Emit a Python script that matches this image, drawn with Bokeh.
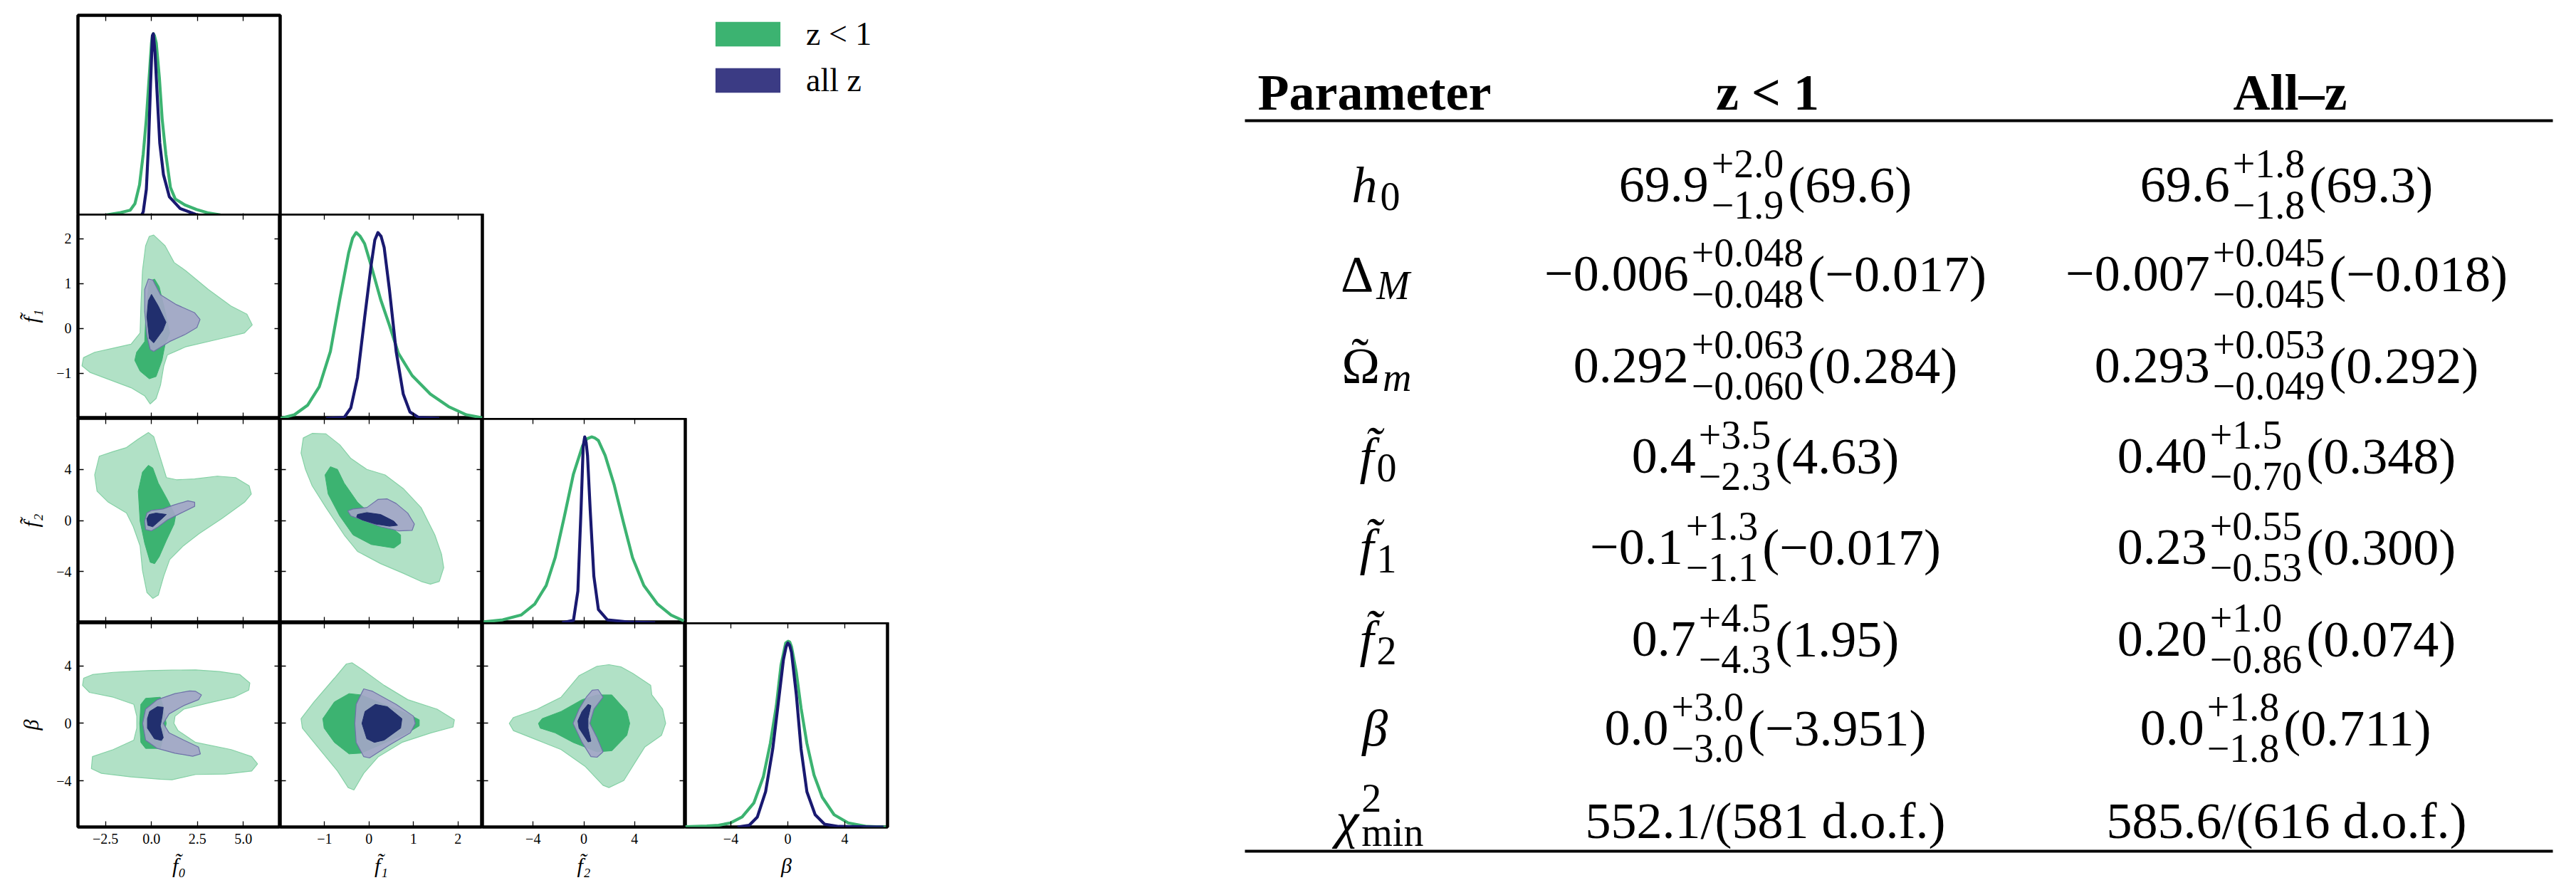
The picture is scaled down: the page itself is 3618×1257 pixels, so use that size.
from bokeh.plotting import figure
from bokeh.models import Range1d, FixedTicker, LinearAxis, Legend, LegendItem, Spacer
from bokeh.layouts import row, column
from bokeh.embed import file_html
from bokeh.resources import INLINE
from bokeh.core.properties import value

# ---------------- digitised data ----------------
# 1-D marginals (normalised peak = 1)
f0_z1_x = [-4.0, -3.35, -2.45, -1.68, -1.16, -0.90, -0.65, -0.45, -0.28, -0.13, 0.0, 0.05, 0.10, 0.16, 0.26, 0.43, 0.58, 0.78, 1.03, 1.29, 1.81, 2.45, 3.10, 3.75, 5.04, 6.98]
f0_z1_y = [0.009, 0.013, 0.022, 0.034, 0.047, 0.083, 0.185, 0.35, 0.54, 0.76, 0.95, 0.99, 1.0, 0.99, 0.95, 0.76, 0.54, 0.35, 0.17, 0.108, 0.076, 0.051, 0.032, 0.022, 0.013, 0.009]
f0_all_x = [-0.62, -0.45, -0.28, -0.16, -0.05, 0.05, 0.10, 0.19, 0.31, 0.45, 0.65, 0.97, 1.55, 2.45, 3.75, 4.78]
f0_all_y = [0.006, 0.038, 0.16, 0.41, 0.73, 0.99, 1.0, 0.90, 0.67, 0.41, 0.24, 0.12, 0.057, 0.023, 0.009, 0.006]
f1_z1_x = [-1.99, -1.68, -1.38, -1.12, -0.87, -0.66, -0.46, -0.37, -0.29, -0.20, -0.10, 0.05, 0.26, 0.46, 0.66, 0.97, 1.38, 1.79, 2.19, 2.55]
f1_z1_y = [0.0, 0.019, 0.071, 0.17, 0.36, 0.64, 0.89, 0.97, 1.0, 0.98, 0.94, 0.82, 0.64, 0.50, 0.35, 0.23, 0.13, 0.063, 0.019, 0.003]
f1_all_x = [-0.97, -0.56, -0.41, -0.26, -0.10, 0.05, 0.13, 0.20, 0.27, 0.34, 0.46, 0.61, 0.77, 0.92, 1.12, 1.58]
f1_all_y = [0.0, 0.004, 0.056, 0.22, 0.54, 0.83, 0.96, 1.0, 0.98, 0.92, 0.69, 0.36, 0.13, 0.034, 0.004, 0.0]
f2_z1_x = [-7.9, -6.4, -4.95, -3.87, -2.97, -2.26, -1.54, -0.82, -0.11, 0.25, 0.61, 0.85, 1.15, 1.68, 2.40, 3.12, 3.84, 4.73, 5.81, 6.88, 7.89]
f2_z1_y = [0.004, 0.015, 0.041, 0.10, 0.20, 0.35, 0.57, 0.80, 0.95, 0.99, 1.0, 0.995, 0.98, 0.90, 0.74, 0.54, 0.35, 0.20, 0.10, 0.041, 0.009]
f2_all_x = [-1.72, -0.82, -0.47, -0.22, -0.05, 0.07, 0.18, 0.29, 0.50, 0.79, 1.15, 1.86, 3.66, 5.63]
f2_all_y = [0.0, 0.012, 0.17, 0.61, 0.95, 1.0, 0.97, 0.90, 0.61, 0.25, 0.07, 0.015, 0.003, 0.0]
beta_z1_x = [-7.2, -5.69, -4.87, -4.04, -3.21, -2.38, -1.72, -1.23, -0.81, -0.48, -0.15, 0.02, 0.14, 0.26, 0.60, 0.93, 1.34, 1.84, 2.42, 3.25, 4.24, 5.56, 6.89]
beta_z1_y = [0.002, 0.005, 0.009, 0.022, 0.054, 0.13, 0.27, 0.45, 0.65, 0.87, 0.99, 1.0, 0.995, 0.97, 0.83, 0.64, 0.45, 0.28, 0.16, 0.066, 0.022, 0.003, 0.0]
beta_all_x = [-3.54, -2.72, -2.14, -1.56, -1.06, -0.65, -0.31, -0.12, 0.0, 0.12, 0.26, 0.60, 0.93, 1.34, 1.92, 2.58, 3.58, 6.72]
beta_all_y = [0.0, 0.009, 0.054, 0.19, 0.42, 0.68, 0.90, 0.97, 0.99, 0.98, 0.94, 0.71, 0.42, 0.19, 0.066, 0.015, 0.003, 0.0]

# 2-D contours: x = column parameter, y = row parameter ; 2s = 95%, 1s = 68%
# f1 vs f0
f0f1_z1_2s_x = [0.12, 0.74, 1.23, 1.85, 3.09, 4.32, 5.19, 5.48, 5.06, 3.83, 1.85, 0.86, 0.67, 0.49, 0.25, -0.07, -0.37, -1.11, -2.35, -3.33, -3.78, -3.70, -3.09, -2.10, -1.11, -0.62, -0.57, -0.49, -0.32, -0.12]
f0f1_z1_2s_y = [2.08, 1.84, 1.47, 1.29, 0.87, 0.50, 0.32, 0.08, -0.10, -0.22, -0.41, -0.59, -0.83, -1.26, -1.56, -1.68, -1.50, -1.32, -1.13, -0.98, -0.83, -0.65, -0.53, -0.44, -0.35, -0.10, 0.56, 1.29, 1.84, 2.05]
f0f1_z1_1s_x = [0.17, 0.42, 0.74, 0.99, 0.74, 0.57, 0.25, -0.12, -0.62, -0.91, -0.81, -0.37, -0.30, -0.12]
f0f1_z1_1s_y = [1.10, 0.93, 0.38, -0.10, -0.35, -0.71, -1.07, -1.12, -0.95, -0.71, -0.53, -0.29, 0.38, 1.05]
f0f1_all_2s_x = [-0.17, 0.07, 0.49, 1.36, 2.35, 2.64, 2.47, 1.85, 0.99, 0.12, -0.07, -0.25, -0.37, -0.37]
f0f1_all_2s_y = [1.10, 1.08, 0.75, 0.53, 0.35, 0.20, 0.02, -0.13, -0.29, -0.51, -0.47, -0.16, 0.38, 0.87]
f0f1_all_1s_x = [0.0, 0.37, 0.79, 0.62, 0.12, -0.12, -0.25, -0.17]
f0f1_all_1s_y = [0.76, 0.50, 0.14, -0.04, -0.32, -0.22, 0.26, 0.62]
# f2 vs f0
f0f2_z1_2s_x = [-0.17, 0.12, 0.49, 0.81, 1.36, 2.35, 3.58, 4.57, 5.31, 5.43, 5.06, 3.83, 2.59, 1.73, 0.99, 0.67, 0.37, 0.07, -0.25, -0.49, -0.62, -0.99, -1.36, -2.35, -2.96, -3.09, -2.84, -2.10, -1.36, -0.74]
f0f2_z1_2s_y = [6.89, 6.57, 4.86, 3.36, 3.19, 3.25, 3.47, 3.36, 2.72, 2.07, 1.43, 0.15, -1.03, -1.99, -3.06, -4.34, -5.84, -6.10, -5.63, -3.91, -1.99, -0.49, 0.58, 1.43, 2.29, 3.57, 5.03, 5.39, 5.71, 6.35]
f0f2_z1_1s_x = [-0.17, 0.07, 0.37, 0.86, 1.31, 1.23, 0.81, 0.42, 0.17, -0.07, -0.37, -0.62, -0.72, -0.49]
f0f2_z1_1s_y = [4.32, 4.11, 2.93, 1.65, 0.36, -0.28, -1.56, -2.84, -3.38, -3.27, -1.78, -0.06, 2.29, 3.79]
f0f2_all_2s_x = [-0.25, 0.0, 0.62, 1.23, 1.98, 2.35, 2.35, 1.60, 0.86, 0.37, 0.0, -0.32, -0.37]
f0f2_all_2s_y = [0.58, 0.79, 0.90, 1.22, 1.54, 1.43, 1.11, 0.58, 0.04, -0.49, -0.81, -0.71, -0.06]
f0f2_all_1s_x = [-0.12, 0.25, 0.81, 0.49, 0.07, -0.20, -0.25]
f0f2_all_1s_y = [0.47, 0.58, 0.47, 0.04, -0.49, -0.38, 0.15]
# f2 vs f1
f1f2_z1_2s_x = [-1.28, -1.48, -1.53, -1.43, -1.28, -0.97, -0.56, -0.26, 0.26, 0.77, 1.17, 1.38, 1.58, 1.68, 1.63, 1.48, 1.17, 0.77, 0.36, -0.05, -0.41, -0.66, -0.97]
f1f2_z1_2s_y = [6.82, 6.46, 5.28, 4.00, 2.72, 1.01, -1.13, -2.42, -3.38, -4.13, -4.77, -4.98, -4.77, -3.70, -2.63, -1.13, 1.01, 2.50, 3.57, 4.00, 4.86, 5.93, 6.78]
f1f2_z1_1s_x = [-0.87, -0.99, -0.92, -0.66, -0.36, 0.05, 0.56, 0.71, 0.71, 0.56, 0.15, -0.26, -0.56, -0.71]
f1f2_z1_1s_y = [4.21, 3.57, 2.07, 0.36, -1.13, -1.88, -2.16, -1.78, -1.13, -0.70, 0.15, 1.43, 2.93, 4.00]
f1f2_all_2s_x = [-0.48, -0.36, -0.05, 0.20, 0.41, 0.61, 0.87, 1.02, 0.97, 0.66, 0.26, -0.15, -0.41]
f1f2_all_2s_y = [0.75, 0.90, 1.01, 1.65, 1.69, 1.33, 0.58, -0.28, -0.77, -0.81, -0.49, 0.04, 0.36]
f1f2_all_1s_x = [-0.26, -0.05, 0.26, 0.56, 0.64, 0.46, 0.15, -0.15, -0.28]
f1f2_all_1s_y = [0.47, 0.62, 0.47, -0.06, -0.38, -0.45, -0.28, 0.04, 0.26]
# beta vs f0
f0b_z1_2s_x = [-3.69, -3.21, -2.08, -0.16, 1.12, 2.40, 3.69, 4.81, 5.35, 5.29, 4.49, 3.04, 1.76, 1.28, 1.22, 1.44, 2.40, 4.33, 5.45, 5.77, 5.45, 4.01, 2.40, 1.12, 0.48, -1.12, -2.72, -3.27, -3.21, -2.08, -0.96, -0.80, -0.80, -0.96, -2.08, -3.37, -3.75]
f0b_z1_2s_y = [3.14, 3.39, 3.55, 3.67, 3.70, 3.72, 3.60, 3.39, 2.81, 2.31, 1.82, 1.40, 0.99, 0.50, 0.0, -0.50, -1.32, -1.82, -2.31, -2.81, -3.31, -3.52, -3.55, -3.92, -3.88, -3.72, -3.47, -3.14, -2.31, -1.82, -1.16, -0.33, 0.50, 1.32, 1.82, 2.15, 2.64]
f0b_z1_1s_x = [-0.32, 0.48, 0.64, 0.80, 0.64, 0.48, -0.32, -0.58, -0.64, -0.58]
f0b_z1_1s_y = [1.74, 1.82, 1.16, 0.0, -0.99, -1.74, -1.74, -1.32, 0.0, 1.32]
f0b_all_2s_x = [2.40, 2.72, 2.56, 1.76, 0.96, 0.64, 0.96, 1.76, 2.56, 2.66, 2.24, 1.28, 0.32, -0.32, -0.48, -0.32, 0.32, 1.28, 2.08]
f0b_all_2s_y = [2.23, 1.98, 1.65, 1.24, 0.66, 0.0, -0.66, -1.16, -1.65, -2.12, -2.28, -2.07, -1.74, -1.16, 0.0, 0.99, 1.65, 2.07, 2.26]
f0b_all_1s_x = [0.32, 0.64, 0.58, 0.48, 0.64, 0.54, 0.16, -0.22, -0.22, -0.10]
f0b_all_1s_y = [1.16, 1.12, 0.50, -0.17, -0.99, -1.19, -1.07, -0.33, 0.33, 0.83]
# beta vs f1
f1b_z1_2s_x = [-0.38, -0.18, 0.34, 0.87, 1.53, 1.92, 1.89, 1.39, 0.74, 0.21, -0.12, -0.34, -0.47, -0.71, -1.24, -1.50, -1.53, -1.24, -0.78, -0.51]
f1b_z1_2s_y = [4.21, 3.80, 2.64, 1.65, 0.99, 0.25, -0.25, -0.66, -1.32, -2.31, -3.47, -4.63, -4.46, -3.31, -1.32, -0.33, 0.33, 1.49, 3.14, 4.13]
f1b_z1_1s_x = [-0.45, -0.18, 0.87, 1.13, 1.13, 0.87, -0.18, -0.45, -0.78, -1.01, -1.04, -0.78]
f1b_z1_1s_y = [2.07, 1.98, 0.66, 0.25, -0.17, -0.66, -2.07, -2.12, -1.32, -0.33, 0.33, 1.49]
f1b_all_2s_x = [-0.12, 0.08, 0.61, 1.00, 1.04, 0.93, 0.47, 0.01, -0.12, -0.29, -0.32, -0.29]
f1b_all_2s_y = [2.40, 2.23, 1.32, 0.50, 0.0, -0.66, -1.49, -2.40, -2.31, -1.32, 0.0, 1.32]
f1b_all_1s_x = [0.14, 0.41, 0.74, 0.71, 0.34, 0.12, -0.05, -0.16, -0.09]
f1b_all_1s_y = [1.32, 1.16, 0.33, -0.33, -1.16, -1.32, -1.07, 0.0, 0.83]
# beta vs f2
f2b_z1_2s_x = [1.98, 2.92, 3.86, 5.27, 5.36, 6.21, 6.45, 6.12, 4.80, 4.09, 3.15, 1.98, 1.51, 0.09, -1.79, -3.67, -5.55, -5.88, -5.55, -3.67, -1.79, -0.38, 1.04]
f2b_z1_2s_y = [4.08, 3.93, 3.47, 2.64, 1.98, 0.99, 0.0, -0.83, -1.65, -2.64, -3.97, -4.46, -4.30, -2.98, -1.82, -1.16, -0.50, 0.0, 0.41, 0.99, 1.82, 3.31, 3.97]
f2b_z1_1s_x = [1.04, 2.21, 3.39, 3.62, 3.39, 2.21, 1.04, -0.85, -2.26, -3.44, -3.58, -3.29, -1.79, -0.14]
f2b_z1_1s_y = [1.98, 1.98, 0.83, 0.0, -0.83, -1.90, -1.98, -1.32, -0.66, -0.33, 0.0, 0.33, 0.83, 1.65]
f2b_all_2s_x = [0.66, 1.13, 1.51, 0.80, 0.47, 1.04, 1.51, 1.04, 0.56, -0.14, -0.85, -0.38, 0.19]
f2b_all_2s_y = [2.31, 2.35, 1.82, 0.99, 0.0, -0.99, -1.98, -2.35, -2.31, -1.32, 0.0, 0.99, 1.82]
f2b_all_1s_x = [0.33, 0.56, 0.33, 0.33, 0.56, 0.33, -0.38, -0.47, -0.14]
f2b_all_1s_y = [1.32, 1.24, 0.33, -0.33, -1.24, -1.29, -0.33, 0.17, 0.83]

# axes
VARS = ["f0", "f1", "f2", "beta"]
RANGES = {"f0": (-4.0, 7.0), "f1": (-2.0, 2.55), "f2": (-8.0, 8.0), "beta": (-7.2, 7.0)}
TICKS = {"f0": [-2.5, 0, 2.5, 5.0], "f1": [-1, 0, 1, 2], "f2": [-4, 0, 4], "beta": [-4, 0, 4]}
TICK_LABELS = {"f0": ["−2.5", "0.0", "2.5", "5.0"], "f1": ["−1", "0", "1", "2"],
               "f2": ["−4", "0", "4"], "beta": ["−4", "0", "4"]}
AXIS_LABELS = {"f0": "f̃₀", "f1": "f̃₁", "f2": "f̃₂", "beta": "β"}
LEGEND_LABELS = ["z < 1", "all z"]

# table
TAB_HEADER = ["Parameter", "z < 1", "All–z"]
param_base = ["h", "Δ", "Ω", "f̃", "f̃", "f̃", "β", "χ"]
param_sub = ["0", "M", "m", "0", "1", "2", "", "min"]
z1_val = ["69.9", "−0.006", "0.292", "0.4", "−0.1", "0.7", "0.0"]
z1_up = ["+2.0", "+0.048", "+0.063", "+3.5", "+1.3", "+4.5", "+3.0"]
z1_dn = ["−1.9", "−0.048", "−0.060", "−2.3", "−1.1", "−4.3", "−3.0"]
z1_best = ["(69.6)", "(−0.017)", "(0.284)", "(4.63)", "(−0.017)", "(1.95)", "(−3.951)"]
all_val = ["69.6", "−0.007", "0.293", "0.40", "0.23", "0.20", "0.0"]
all_up = ["+1.8", "+0.045", "+0.053", "+1.5", "+0.55", "+1.0", "+1.8"]
all_dn = ["−1.8", "−0.045", "−0.049", "−0.70", "−0.53", "−0.86", "−1.8"]
all_best = ["(69.3)", "(−0.018)", "(0.292)", "(0.348)", "(0.300)", "(0.074)", "(0.711)"]
chi2_text = ["552.1/(581 d.o.f.)", "585.6/(616 d.o.f.)"]

# ---------------- styling / layout ----------------
FONT = "Liberation Serif"
GREEN = "#3cb371"
NAVY = "#191970"
LEG_BLUE = "#3b3b84"
G_LIGHT, G_LIGHT_LINE = "#b1e1c6", "#86d1a6"
G_DARK = "#3cb371"
B_LIGHT, B_LIGHT_LINE = "#a3a5c6", "#6e72a8"
B_DARK = "#212f6e"

COL_W = [284, 284, 285, 284]
ROW_H = [286, 287, 287, 287]
LEFT, TOP, BOTTOM, RIGHT = 109, 14, 80, 8
CORNER_W = 1254

marg = {"f0": (f0_z1_x, f0_z1_y, f0_all_x, f0_all_y),
        "f1": (f1_z1_x, f1_z1_y, f1_all_x, f1_all_y),
        "f2": (f2_z1_x, f2_z1_y, f2_all_x, f2_all_y),
        "beta": (beta_z1_x, beta_z1_y, beta_all_x, beta_all_y)}
cont = {
    (1, 0): [(f0f1_z1_2s_x, f0f1_z1_2s_y), (f0f1_z1_1s_x, f0f1_z1_1s_y), (f0f1_all_2s_x, f0f1_all_2s_y), (f0f1_all_1s_x, f0f1_all_1s_y)],
    (2, 0): [(f0f2_z1_2s_x, f0f2_z1_2s_y), (f0f2_z1_1s_x, f0f2_z1_1s_y), (f0f2_all_2s_x, f0f2_all_2s_y), (f0f2_all_1s_x, f0f2_all_1s_y)],
    (2, 1): [(f1f2_z1_2s_x, f1f2_z1_2s_y), (f1f2_z1_1s_x, f1f2_z1_1s_y), (f1f2_all_2s_x, f1f2_all_2s_y), (f1f2_all_1s_x, f1f2_all_1s_y)],
    (3, 0): [(f0b_z1_2s_x, f0b_z1_2s_y), (f0b_z1_1s_x, f0b_z1_1s_y), (f0b_all_2s_x, f0b_all_2s_y), (f0b_all_1s_x, f0b_all_1s_y)],
    (3, 1): [(f1b_z1_2s_x, f1b_z1_2s_y), (f1b_z1_1s_x, f1b_z1_1s_y), (f1b_all_2s_x, f1b_all_2s_y), (f1b_all_1s_x, f1b_all_1s_y)],
    (3, 2): [(f2b_z1_2s_x, f2b_z1_2s_y), (f2b_z1_1s_x, f2b_z1_1s_y), (f2b_all_2s_x, f2b_all_2s_y), (f2b_all_1s_x, f2b_all_1s_y)],
}
cont_style = [
    dict(fill_color=G_LIGHT, line_color=G_LIGHT_LINE, line_width=1.2),
    dict(fill_color=G_DARK, line_color=G_DARK, line_width=1),
    dict(fill_color=B_LIGHT, fill_alpha=0.9, line_color=B_LIGHT_LINE, line_width=1.2),
    dict(fill_color=B_DARK, line_color=B_DARK, line_width=1),
]


def add_axis(p, side, var, show, label=None):
    ax = LinearAxis(ticker=FixedTicker(ticks=TICKS[var]),
                    major_label_overrides={float(t): s for t, s in zip(TICKS[var], TICK_LABELS[var])},
                    axis_line_color=None, major_tick_in=8, major_tick_out=0,
                    major_tick_line_width=1.3, major_tick_line_color="black",
                    minor_tick_line_color=None, minor_tick_in=0, minor_tick_out=0)
    if show:
        ax.major_label_text_font = FONT
        ax.major_label_text_font_size = "20px"
        ax.major_label_text_color = "black"
        ax.major_label_standoff = 9
    else:
        ax.major_label_text_color = None
        ax.major_label_text_font_size = "0px"
        ax.major_label_standoff = 0
    if label:
        ax.axis_label = label
        ax.axis_label_text_font = FONT
        ax.axis_label_text_font_size = "30px"
        ax.axis_label_text_font_style = "italic"
        ax.axis_label_text_color = "black"
        ax.axis_label_standoff = 16 if side == "left" else 11
    p.add_layout(ax, side)


def make_panel(i, j):
    xv, yv = VARS[j], VARS[i]
    diag = (i == j)
    yr = (0.0, 1.1) if diag else RANGES[yv]
    br = (RIGHT if i == 3 else 3) if diag else 0
    p = figure(frame_width=COL_W[j], frame_height=ROW_H[i],
               x_range=Range1d(*RANGES[xv]), y_range=Range1d(*yr),
               min_border_left=LEFT if j == 0 else 0, min_border_right=br,
               min_border_top=TOP if i == 0 else 0, min_border_bottom=BOTTOM if i == 3 else 0,
               output_backend="svg", toolbar_location=None,
               x_axis_location=None, y_axis_location=None)
    p.xgrid.visible = False
    p.ygrid.visible = False
    p.outline_line_color = "black"
    p.outline_line_width = 4.5
    p.background_fill_color = "white"
    p.border_fill_color = "white"
    if diag:
        zx, zy, ax_, ay_ = marg[xv]
        p.line(zx, zy, line_color=GREEN, line_width=4.2, line_join="round")
        p.line(ax_, ay_, line_color=NAVY, line_width=4.2, line_join="round")
    else:
        for (cx, cy), st in zip(cont[(i, j)], cont_style):
            p.patch(cx, cy, **st)
    add_axis(p, "below", xv, i == 3, AXIS_LABELS[xv] if i == 3 else None)
    add_axis(p, "above", xv, False)
    if not diag:
        add_axis(p, "left", yv, j == 0, AXIS_LABELS[yv] if j == 0 else None)
        add_axis(p, "right", yv, False)
    return p


P = {(i, j): make_panel(i, j) for i in range(4) for j in range(i + 1)}

# legend figure (legend proxies sit outside the visible range)
# area legend glyphs are inset by 10% on every side, so the glyph box is enlarged
GLYPH_W, GLYPH_H = 114, 43
leg_left = 1012 - 8 - (LEFT + COL_W[0] + 3) - 11
leg_w = CORNER_W - (LEFT + COL_W[0] + 3)
leg_top = 21
leg = figure(frame_width=leg_w - leg_left, frame_height=TOP + ROW_H[0] - leg_top,
             min_border_left=leg_left, min_border_top=leg_top, min_border_right=0, min_border_bottom=0,
             x_range=Range1d(0, 1), y_range=Range1d(0, 1), output_backend="svg", toolbar_location=None,
             x_axis_location=None, y_axis_location=None)
leg.xgrid.visible = False
leg.ygrid.visible = False
leg.outline_line_color = None
r1 = leg.quad(left=[-3], right=[-2], top=[-2], bottom=[-3], fill_color=GREEN, line_color=None)
r2 = leg.quad(left=[-3], right=[-2], top=[-2], bottom=[-3], fill_color=LEG_BLUE, line_color=None)
legend = Legend(items=[LegendItem(label=LEGEND_LABELS[0], renderers=[r1]),
                       LegendItem(label=LEGEND_LABELS[1], renderers=[r2])],
                location="top_left", orientation="vertical", glyph_width=GLYPH_W, glyph_height=GLYPH_H,
                label_standoff=25, spacing=12, padding=0, margin=0, border_line_color=None,
                background_fill_alpha=0, label_text_font=FONT, label_text_font_size="46px",
                label_text_color="black", label_height=GLYPH_H)
leg.add_layout(legend)

# table figure
TAB_W = 3602 - CORNER_W
tab = figure(width=TAB_W, height=1241, x_range=Range1d(8 + CORNER_W, 3610), y_range=Range1d(1249, 8),
             min_border_left=0, min_border_right=0, min_border_top=0, min_border_bottom=0,
             output_backend="svg", toolbar_location=None, x_axis_location=None, y_axis_location=None)
tab.xgrid.visible = False
tab.ygrid.visible = False
tab.outline_line_color = None

MAIN, SCR = 72, 56
CW = {**{d: 0.5 for d in "0123456789"}, ".": 0.25, "−": 0.564, "+": 0.564, "(": 0.333, ")": 0.333}
BASE_W = {"h": 0.5, "Δ": 0.61, "Ω": 0.77, "f̃": 0.36, "β": 0.52, "χ": 0.55}
SUB_W = {"0": 0.5, "1": 0.5, "2": 0.5, "M": 0.83, "m": 0.72, "min": 1.5, "": 0.0}


def tw(s, size):
    return sum(CW.get(c, 0.5) for c in s) * size


PX, CX1, CX2 = 1938, 2487, 3219
ROW_BASE = [267, 392, 521, 648, 776, 905, 1030, 1160]
HEAD_BASE = 137
RULE_Y = [177, 1203]
RULE_X = (1756, 3593)

tfont = value(FONT)
tab.text(x=[PX, (CX1 + 3), CX2 + 5], y=[HEAD_BASE] * 3, text=TAB_HEADER, text_font=tfont,
         text_font_size=value(f"{MAIN}px"), text_font_style="bold", text_align="center",
         text_baseline="alphabetic", text_color="black")
tab.segment(x0=[RULE_X[0]] * 2, x1=[RULE_X[1]] * 2, y0=RULE_Y, y1=RULE_Y, line_color="black", line_width=4)

# parameter column
bx, by, bt_, sx, sy, st_ = [], [], [], [], [], []
for k, (b, s) in enumerate(zip(param_base, param_sub)):
    wb = BASE_W[b] * MAIN
    ws = SUB_W[s] * SCR
    xa = PX + (wb - ws) / 2
    bx.append(xa); by.append(ROW_BASE[k]); bt_.append(b)
    if s:
        sx.append(xa + 4); sy.append(ROW_BASE[k] + 16); st_.append(s)
up_style = ["italic", "normal", "normal", "italic", "italic", "italic", "italic", "italic"]
for style in ("italic", "normal"):
    idx = [k for k in range(len(bt_)) if up_style[k] == style]
    tab.text(x=[bx[k] for k in idx], y=[by[k] for k in idx], text=[bt_[k] for k in idx],
             text_font=tfont, text_font_size=value(f"{MAIN}px"), text_font_style=style,
             text_align="right", text_baseline="alphabetic", text_color="black")
# tilde over Omega
tab.text(x=[bx[2] - BASE_W["Ω"] * MAIN / 2], y=[ROW_BASE[2] - 14], text=["˜"], text_font=tfont,
         text_font_size=value(f"{MAIN}px"), text_align="center", text_baseline="alphabetic", text_color="black")
sub_style = {"0": "normal", "1": "normal", "2": "normal", "M": "italic", "m": "italic", "min": "normal"}
for style in ("italic", "normal"):
    idx = [k for k in range(len(st_)) if sub_style[st_[k]] == style]
    tab.text(x=[sx[k] for k in idx], y=[sy[k] for k in idx], text=[st_[k] for k in idx],
             text_font=tfont, text_font_size=value(f"{SCR}px"), text_font_style=style,
             text_align="left", text_baseline="alphabetic", text_color="black")
# chi^2 superscript
tab.text(x=[bx[7] + 4], y=[ROW_BASE[7] - 32], text=["2"], text_font=tfont,
         text_font_size=value(f"{SCR}px"), text_align="left", text_baseline="alphabetic", text_color="black")

# value columns
mx, my, mt, ux, uy, ut, dx, dy, dt, px_, py_, pt = ([] for _ in range(12))
for cx, vals, ups, dns, bests in ((CX1, z1_val, z1_up, z1_dn, z1_best), (CX2, all_val, all_up, all_dn, all_best)):
    for k in range(7):
        wm = tw(vals[k], MAIN)
        ws = max(tw(ups[k], SCR), tw(dns[k], SCR))
        wb = tw(bests[k], MAIN)
        total = wm + 4 + ws + 6 + wb
        x0 = cx - total / 2
        yb = ROW_BASE[k]
        mx.append(x0); my.append(yb); mt.append(vals[k])
        ux.append(x0 + wm + 4); uy.append(yb - 30); ut.append(ups[k])
        dx.append(x0 + wm + 4); dy.append(yb + 28); dt.append(dns[k])
        px_.append(x0 + wm + 4 + ws + 6); py_.append(yb); pt.append(bests[k])
for xs, ys, ts, fs in ((mx, my, mt, MAIN), (ux, uy, ut, SCR), (dx, dy, dt, SCR), (px_, py_, pt, MAIN)):
    tab.text(x=xs, y=ys, text=ts, text_font=tfont, text_font_size=value(f"{fs}px"),
             text_align="left", text_baseline="alphabetic", text_color="black")
tab.text(x=[CX1, CX2], y=[ROW_BASE[7]] * 2, text=chi2_text, text_font=tfont,
         text_font_size=value(f"{MAIN}px"), text_align="center", text_baseline="alphabetic", text_color="black")

# ---------------- layout ----------------
r_1 = row(P[(0, 0)], leg)
r_2 = row(P[(1, 0)], P[(1, 1)], Spacer(width=CORNER_W - LEFT - COL_W[0] - COL_W[1] - 3, height=ROW_H[1]))
r_3 = row(P[(2, 0)], P[(2, 1)], P[(2, 2)],
          Spacer(width=CORNER_W - LEFT - COL_W[0] - COL_W[1] - COL_W[2] - 3, height=ROW_H[2]))
r_4 = row(P[(3, 0)], P[(3, 1)], P[(3, 2)], P[(3, 3)])
corner = column(r_1, r_2, r_3, r_4)
page = row(corner, tab)

open("out.html", "w").write(file_html(page, INLINE))
